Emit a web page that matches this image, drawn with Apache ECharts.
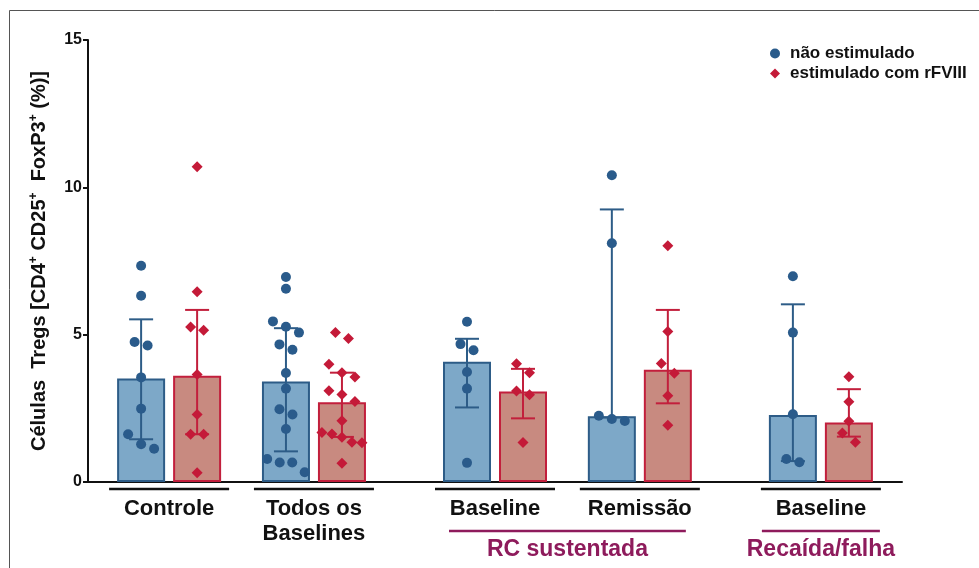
<!DOCTYPE html>
<html>
<head>
<meta charset="utf-8">
<script src="https://cdn.jsdelivr.net/npm/echarts@6/dist/echarts.min.js"></script>
<style>
html, body { margin: 0; padding: 0; background: #fff; }
#main { width: 979px; height: 568px; }
</style>
</head>
<body>
<div id="main"></div>
<script>
// groups on the x axis, and the bracket they belong to
var categories = ['Controle', 'Todos os\nBaselines', 'Baseline', 'Remissão', 'Baseline']
var brackets = [null, null, 'RC sustentada', 'RC sustentada', 'Recaída/falha']
var yTicks = [0, 5, 10, 15]

// medians and interquartile range
var blueMedian = [3.51, 3.41, 4.08, 2.23, 2.27]
var blueQ1 = [1.45, 1.04, 2.53, 2.19, 0.71]
var blueQ3 = [5.52, 5.22, 4.86, 9.25, 6.03]
var redMedian = [3.61, 2.71, 3.07, 3.81, 2.02]
var redQ1 = [1.62, 1.53, 2.16, 2.67, 1.54]
var redQ3 = [5.84, 3.71, 3.84, 5.84, 3.15]

// individual values
var bluePoints = [
    [7.34, 6.32, 4.75, 4.63, 3.55, 2.49, 1.62, 1.28, 1.13],
    [6.96, 6.56, 5.45, 5.27, 5.07, 4.67, 4.49, 3.70, 3.17, 2.47, 2.29, 1.80, 0.78, 0.66, 0.66, 0.33],
    [5.44, 4.68, 4.47, 3.73, 3.17, 0.65],
    [10.41, 8.10, 2.25, 2.14, 2.07],
    [6.98, 5.07, 2.30, 0.78, 0.67]
]
var redPoints = [
    [10.70, 6.46, 5.26, 5.15, 3.65, 2.29, 1.62, 1.62, 0.31],
    [5.07, 4.87, 4.00, 3.71, 3.56, 3.10, 2.97, 2.73, 2.08, 1.68, 1.63, 1.52, 1.35, 1.33, 0.64],
    [4.01, 3.71, 3.09, 2.96, 1.34],
    [8.02, 5.11, 4.02, 3.69, 2.93, 1.93],
    [3.57, 2.72, 2.06, 1.66, 1.35]
]

var seriesNames = ['não estimulado', 'estimulado com rFVIII']

var blueFill = '#7DA8C8', blueLine = '#2D5C87', blueDot = '#2A5B8B'
var redFill = '#C88A80', redLine = '#C21F3C', redDot = '#C41A38'
var font = '"Liberation Sans", Arial, sans-serif'

// x layout: 4 units between groups of the same bracket, 5 between brackets
var groupPos = [0]
for (var i = 1; i < categories.length; i++) {
    groupPos.push(groupPos[i - 1] + (brackets[i] === brackets[i - 1] ? 4 : 5))
}
var xMin = -2.24, xMax = groupPos[groupPos.length - 1] + 2.24
var grid = { left: 88, right: 77, top: 40, bottom: 86 }
var pxX = (979 - grid.left - grid.right) / (xMax - xMin)
var pxY = (568 - grid.top - grid.bottom) / 15
var half = 28 / pxX   // bar centre offset from group centre

// simple beeswarm: values close together are laid out in a row
function swarm(vals, cx) {
    var sorted = vals.slice().sort(function (a, b) { return b - a })
    var rows = [], cur = []
    sorted.forEach(function (v) {
        if (cur.length && (cur[cur.length - 1] - v) * pxY < 11) cur.push(v)
        else { if (cur.length) rows.push(cur); cur = [v] }
    })
    rows.push(cur)
    var out = []
    rows.forEach(function (r) {
        var n = r.length, step = Math.min(13, 50 / n)
        r.forEach(function (v, k) {
            out.push([cx + (k - (n - 1) / 2) * step / pxX, v])
        })
    })
    return out
}

var blueBars = [], redBars = [], blueErr = [], redErr = [], blueScatter = [], redScatter = []
groupPos.forEach(function (g, i) {
    blueBars.push([g - half, blueMedian[i]])
    redBars.push([g + half, redMedian[i]])
    blueErr.push([g - half, blueQ1[i], blueQ3[i]])
    redErr.push([g + half, redQ1[i], redQ3[i]])
    blueScatter = blueScatter.concat(swarm(bluePoints[i], g - half))
    redScatter = redScatter.concat(swarm(redPoints[i], g + half))
})

function errRender(color) {
    return function (params, api) {
        var x = api.value(0)
        var lo = api.coord([x, api.value(1)])
        var hi = api.coord([x, api.value(2)])
        var w = 12
        var st = { stroke: color, lineWidth: 2 }
        return {
            type: 'group',
            children: [
                { type: 'line', shape: { x1: lo[0], y1: lo[1], x2: hi[0], y2: hi[1] }, style: st },
                { type: 'line', shape: { x1: hi[0] - w, y1: hi[1], x2: hi[0] + w, y2: hi[1] }, style: st },
                { type: 'line', shape: { x1: lo[0] - w, y1: lo[1], x2: lo[0] + w, y2: lo[1] }, style: st }
            ]
        }
    }
}

var chart = echarts.init(document.getElementById('main'))
var option = {
    animation: false,
    backgroundColor: '#fff',
    grid: grid,
    legend: {
        orient: 'vertical',
        left: 765,
        top: 40,
        itemWidth: 10,
        itemHeight: 10,
        itemGap: 3,
        selectedMode: false,
        textStyle: { fontSize: 17, fontWeight: 'bold', color: '#111', fontFamily: font, padding: [0, 0, 0, 5] },
        data: [
            { name: seriesNames[0], icon: 'circle', itemStyle: { color: blueDot } },
            { name: seriesNames[1], icon: 'diamond', itemStyle: { color: redDot } }
        ]
    },
    xAxis: {
        type: 'value',
        min: xMin,
        max: xMax,
        axisLine: { onZero: false, lineStyle: { color: '#111', width: 2 } },
        axisTick: { show: false },
        axisLabel: { show: false },
        splitLine: { show: false }
    },
    yAxis: {
        type: 'value',
        min: yTicks[0],
        max: yTicks[yTicks.length - 1],
        interval: yTicks[1] - yTicks[0],
        axisLine: { show: true, onZero: false, lineStyle: { color: '#111', width: 2 } },
        axisTick: { show: true, length: 5, lineStyle: { color: '#111', width: 2 } },
        axisLabel: { color: '#111', fontSize: 16, fontWeight: 'bold', fontFamily: font, margin: 6 },
        splitLine: { show: false },
        name: '{a|Células  Tregs [CD4}{s|+}{a| CD25}{s|+}{a|  FoxP3}{s|+}{a| (%)]}',
        nameLocation: 'middle',
        nameGap: 38,
        nameTextStyle: {
            rich: {
                a: { fontSize: 20, fontWeight: 'bold', color: '#111', fontFamily: font },
                s: { fontSize: 12, fontWeight: 'bold', color: '#111', fontFamily: font, verticalAlign: 'top', padding: [0, 0, 10, 0] }
            }
        }
    },
    series: [
        {
            type: 'bar', data: blueBars, barWidth: 48, barGap: '-100%', z: 2,
            itemStyle: { color: blueFill, borderColor: blueLine, borderWidth: 2 }
        },
        {
            type: 'bar', data: redBars, barWidth: 48, barGap: '-100%', z: 2,
            itemStyle: { color: redFill, borderColor: redLine, borderWidth: 2 }
        },
        { type: 'custom', data: blueErr, renderItem: errRender(blueLine), encode: { x: 0, y: [1, 2] }, z: 3 },
        { type: 'custom', data: redErr, renderItem: errRender(redLine), encode: { x: 0, y: [1, 2] }, z: 3 },
        {
            name: seriesNames[0], type: 'scatter', data: blueScatter, symbol: 'circle', symbolSize: 10, z: 4,
            itemStyle: { color: blueDot, opacity: 1 }
        },
        {
            name: seriesNames[1], type: 'scatter', data: redScatter, symbol: 'diamond', symbolSize: 11, z: 4,
            itemStyle: { color: redDot, opacity: 1 }
        }
    ]
}
chart.setOption(option)

// group labels under the axis, then the bracket lines
var graphics = [{
    type: 'rect', silent: true,
    shape: { x: 9.5, y: 10.5, width: 1000, height: 600 },
    style: { fill: null, stroke: '#555', lineWidth: 1 }
}]
groupPos.forEach(function (g, i) {
    var cx = chart.convertToPixel({ xAxisIndex: 0 }, g)
    graphics.push({
        type: 'line', silent: true,
        shape: { x1: cx - 60, y1: 489, x2: cx + 60, y2: 489 },
        style: { stroke: '#111', lineWidth: 2.5 }
    })
    graphics.push({
        type: 'text', silent: true,
        style: { text: categories[i], x: cx, y: 496, align: 'center', verticalAlign: 'top',
            font: 'bold 22px ' + font, lineHeight: 25, fill: '#111' }
    })
})
var seen = {}
brackets.forEach(function (b, i) {
    if (!b || seen[b]) return
    seen[b] = true
    var members = []
    brackets.forEach(function (bb, j) { if (bb === b) members.push(groupPos[j]) })
    var x1 = chart.convertToPixel({ xAxisIndex: 0 }, members[0])
    var x2 = chart.convertToPixel({ xAxisIndex: 0 }, members[members.length - 1])
    var ext = members.length > 1 ? 46 : 59
    graphics.push({
        type: 'line', silent: true,
        shape: { x1: x1 - ext, y1: 531, x2: x2 + ext, y2: 531 },
        style: { stroke: '#8E1B5C', lineWidth: 2.5 }
    })
    graphics.push({
        type: 'text', silent: true,
        style: { text: b, x: (x1 + x2) / 2, y: 550, align: 'center', verticalAlign: 'middle',
            font: 'bold 23px ' + font, fill: '#8E1B5C' }
    })
})
chart.setOption({ graphic: graphics })
</script>
</body>
</html>
